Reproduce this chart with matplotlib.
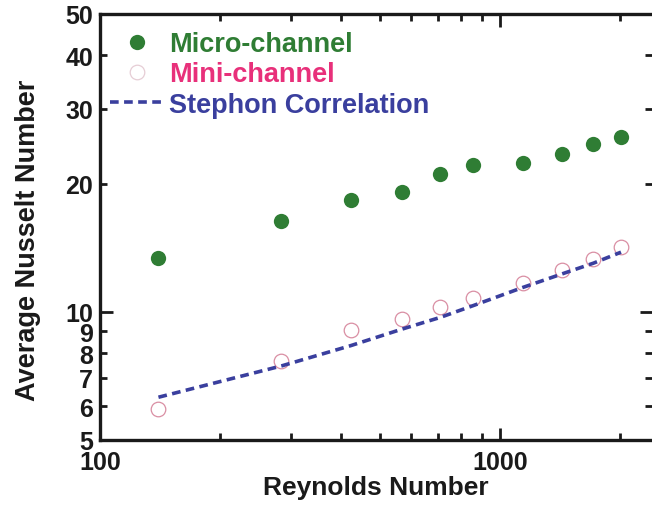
import matplotlib
matplotlib.use("Agg")
import matplotlib.pyplot as plt
from matplotlib.ticker import FixedLocator, FixedFormatter, NullFormatter

plt.rcParams['font.family'] = ['Liberation Sans', 'DejaVu Sans']
plt.rcParams['font.weight'] = 'bold'
plt.rcParams['axes.labelweight'] = 'bold'

# Reynolds numbers of the measurements
reynolds = [140, 284, 424, 568, 709, 855, 1139, 1429, 1711, 2007]
# Average Nusselt numbers
nu_micro = [13.4, 16.3, 18.3, 19.1, 21.0, 22.1, 22.3, 23.4, 24.7, 25.7]
nu_mini = [5.9, 7.65, 9.05, 9.6, 10.25, 10.8, 11.7, 12.5, 13.3, 14.2]
nu_stephon = [6.3, 7.46, 8.33, 9.1, 9.7, 10.33, 11.4, 12.27, 13.0, 13.8]

y_major = [10]
y_minor = [5, 6, 7, 8, 9, 20, 30, 40, 50]
x_major = [100, 1000]
x_minor = [200, 300, 400, 500, 600, 700, 800, 900, 2000]

green = '#2f7d34'
pink = '#e8307a'
blue = '#3a3f9e'

fig = plt.figure(figsize=(6.52, 5.06), dpi=100)
ax = fig.add_axes([100 / 652, 1 - 441 / 506, 552 / 652, 426 / 506])

ax.plot(reynolds, nu_micro, 'o', color=green, markersize=11, markeredgewidth=0,
        label='Micro-channel')
ax.plot(reynolds, nu_mini, 'o', markerfacecolor='none', markeredgecolor='#d98ea3',
        markersize=10.5, markeredgewidth=0.9, label='Mini-channel')
ax.plot(reynolds, nu_stephon, '--', color=blue, linewidth=2.6, dashes=(2.4, 1.5),
        label='Stephon Correlation')

ax.set_xscale('log')
ax.set_yscale('log')
ax.set_xlim(100, 10 ** (2 + 552 / 400))
ax.set_ylim(5, 50)

ax.yaxis.set_major_locator(FixedLocator(y_major))
ax.yaxis.set_major_formatter(FixedFormatter([str(v) for v in y_major]))
ax.yaxis.set_minor_locator(FixedLocator(y_minor))
ax.yaxis.set_minor_formatter(FixedFormatter([str(v) for v in y_minor]))
ax.xaxis.set_major_locator(FixedLocator(x_major))
ax.xaxis.set_major_formatter(FixedFormatter([str(v) for v in x_major]))
ax.xaxis.set_minor_locator(FixedLocator(x_minor))
ax.xaxis.set_minor_formatter(NullFormatter())

ax.tick_params(which='both', direction='in', top=True, right=True, width=2,
               labelsize=18, pad=5, colors='#1a1a1a')
ax.tick_params(which='major', length=9)
ax.tick_params(which='minor', length=5)
ax.tick_params(axis='x', which='both', pad=7)

for side in ['left', 'bottom', 'top']:
    ax.spines[side].set_linewidth(2.4)
    ax.spines[side].set_color('#1a1a1a')
ax.spines['right'].set_visible(False)

ax.set_xlabel('Reynolds Number', fontsize=19, labelpad=1, color='#1a1a1a')
ax.set_ylabel('Average Nusselt Number', fontsize=19.5, color='#1a1a1a')
ax.yaxis.set_label_coords(-0.107, 0.472)

leg = ax.legend(loc='upper left', bbox_to_anchor=(0.018, 0.96), frameon=False,
                fontsize=19.5, handlelength=2.0, handletextpad=0.18,
                labelspacing=0.16, borderpad=0, borderaxespad=0,
                labelcolor=[green, pink, blue])
leg.legend_handles[1].set_markeredgecolor('#e6cdd5')

fig.savefig('out.png', dpi=100)
